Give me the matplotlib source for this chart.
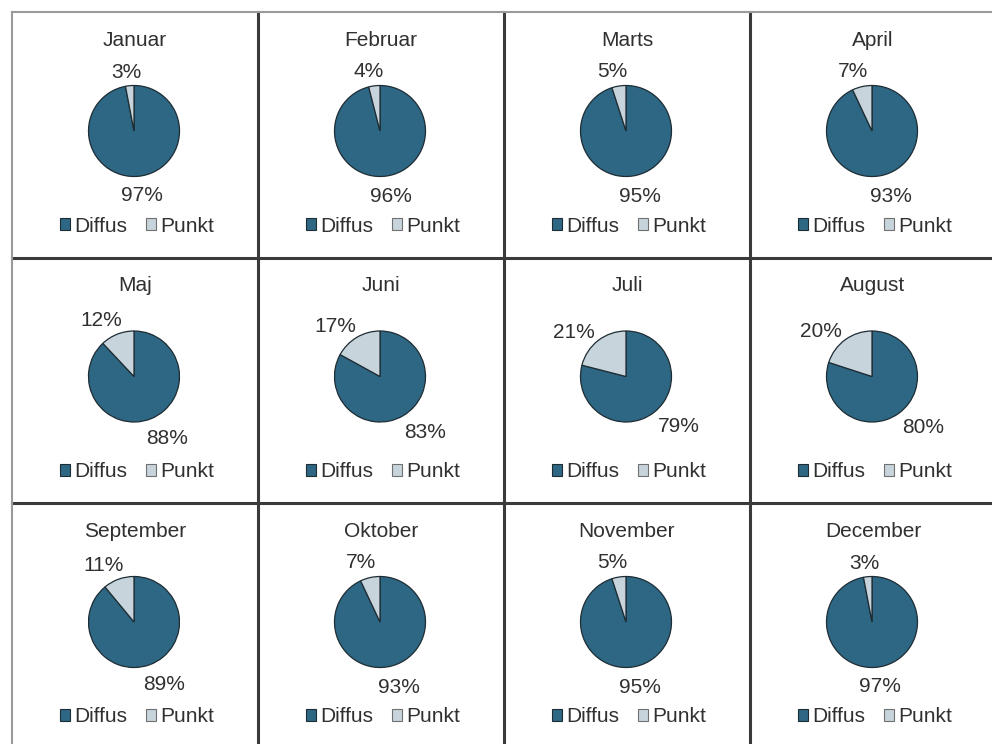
import numpy as np
import matplotlib
matplotlib.use("Agg")
import matplotlib.pyplot as plt
from matplotlib.patches import Patch
from matplotlib.lines import Line2D

plt.rcParams['font.family'] = ['Liberation Sans', 'DejaVu Sans']

months = ["Januar", "Februar", "Marts", "April",
          "Maj", "Juni", "Juli", "August",
          "September", "Oktober", "November", "December"]
diffus = [97, 96, 95, 93, 88, 83, 79, 80, 89, 93, 95, 97]
punkt = [3, 4, 5, 7, 12, 17, 21, 20, 11, 7, 5, 3]
series_names = ["Diffus", "Punkt"]

C_DIFFUS = "#2d6784"
C_PUNKT = "#c7d4db"
EDGE = "#1e2c34"
TXT = "#303030"

W, H = 992, 744
fig = plt.figure(figsize=(W / 100, H / 100), dpi=100)
fig.patch.set_facecolor("white")

x0, y0 = 12, 12
cw, ch = 246, 245.5
R = 45.5

for k, m in enumerate(months):
    i, j = divmod(k, 4)
    left = x0 + j * cw
    top = y0 + i * ch
    ax = fig.add_axes([left / W, 1 - (top + ch) / H, cw / W, ch / H])
    cx, cy = 122, ch - 119
    wedges, _ = ax.pie([diffus[k], punkt[k]], colors=[C_DIFFUS, C_PUNKT],
                       startangle=90, counterclock=False, radius=R,
                       center=(cx, cy), frame=True,
                       wedgeprops=dict(edgecolor=EDGE, linewidth=0.9))
    vals = [diffus[k], punkt[k]]
    for w, v in zip(wedges, vals):
        th = np.deg2rad((w.theta1 + w.theta2) / 2)
        phi = th + np.deg2rad(11 * np.sin(2 * (th - np.pi / 2)))
        rr = R + 8 + 16 * abs(np.cos(phi)) + 7 * abs(np.sin(phi))
        ax.text(cx + rr * np.cos(phi), cy - 3 + rr * np.sin(phi), f"{v}%",
                ha="center", va="center", fontsize=15, color=TXT)
    ax.text(123, ch - 28, m, ha="center", va="center", fontsize=15, color=TXT)
    handles = [Patch(facecolor=C_DIFFUS, edgecolor=EDGE, linewidth=0.8),
               Patch(facecolor=C_PUNKT, edgecolor="#707070", linewidth=0.8)]
    leg = ax.legend(handles, series_names, loc="center", ncol=2,
                    bbox_to_anchor=(125 / cw, 1 - 214 / ch), frameon=False,
                    handlelength=0.5, handleheight=0.5, handletextpad=0.2,
                    columnspacing=0.9, fontsize=15, borderaxespad=0, borderpad=0)
    for t in leg.get_texts():
        t.set_color(TXT)
    ax.set_xlim(0, cw)
    ax.set_ylim(0, ch)
    ax.set_aspect("auto")
    ax.set_axis_off()

# grid lines
inner = dict(color="#3a3a3a", linewidth=2.2)
for j in range(1, 4):
    x = (x0 + j * cw) / W
    fig.add_artist(Line2D([x, x], [0, 1 - y0 / H], transform=fig.transFigure, **inner))
for i in range(1, 3):
    y = 1 - (y0 + i * ch) / H
    fig.add_artist(Line2D([x0 / W, 1], [y, y], transform=fig.transFigure, **inner))
outer = dict(color="#9a9a9a", linewidth=1.5)
fig.add_artist(Line2D([x0 / W, 1], [1 - y0 / H, 1 - y0 / H], transform=fig.transFigure, **outer))
fig.add_artist(Line2D([x0 / W, x0 / W], [0, 1 - y0 / H], transform=fig.transFigure, **outer))

fig.savefig("out.png", dpi=100, facecolor="white")
